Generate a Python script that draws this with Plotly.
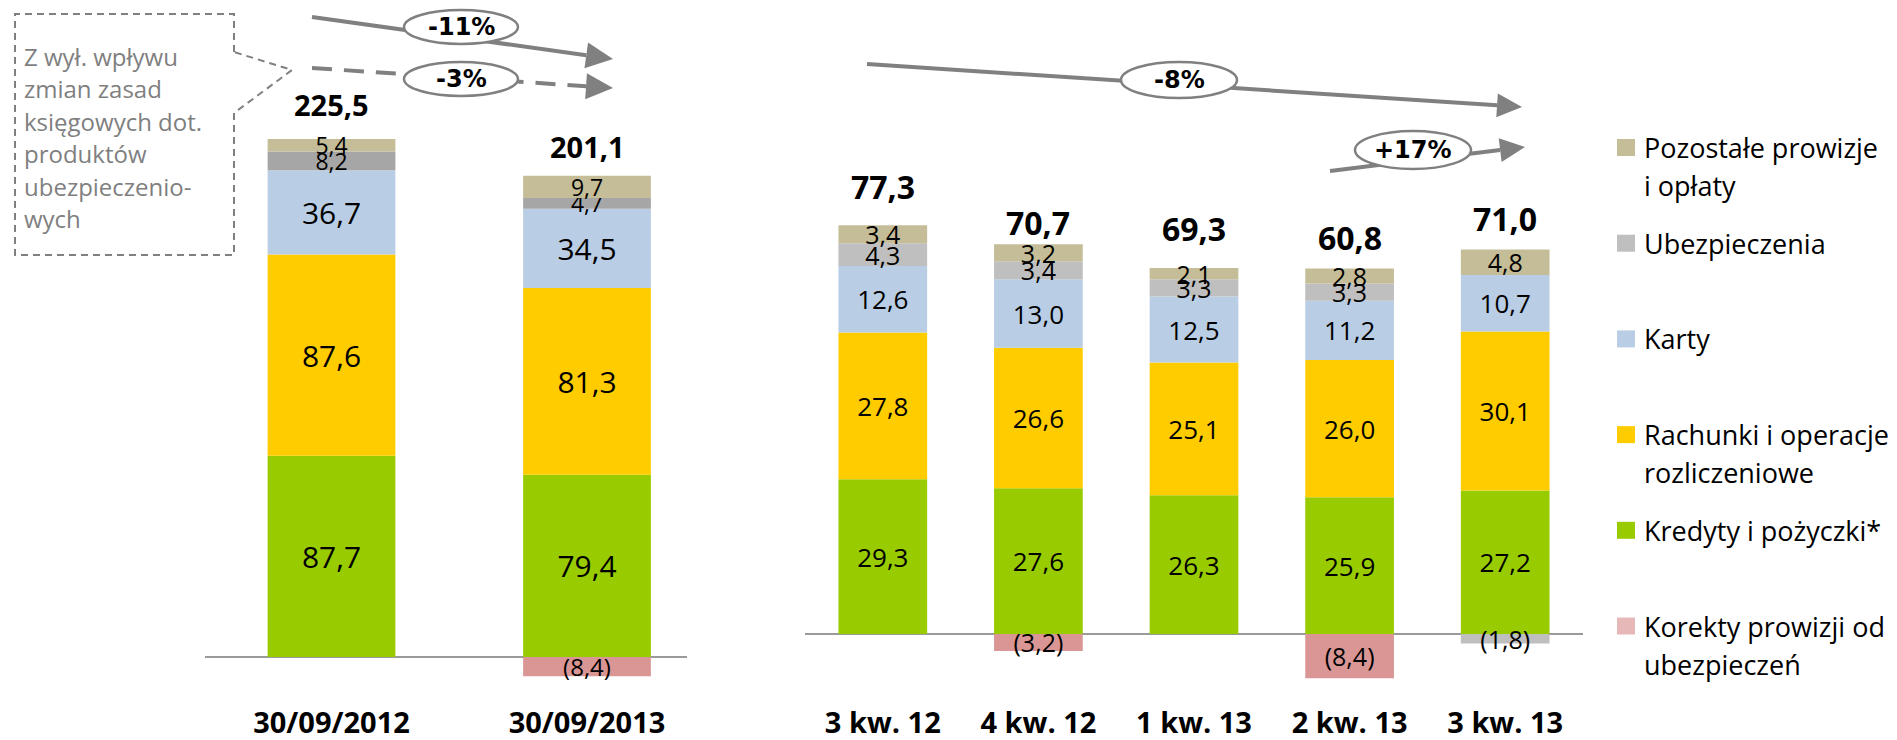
import plotly.graph_objects as go

W, H = 1897, 740

# ---------------- data ----------------
ytd_categories = ["30/09/2012", "30/09/2013"]
ytd_kredyty = [87.7, 79.4]
ytd_rachunki = [87.6, 81.3]
ytd_karty = [36.7, 34.5]
ytd_ubezp = [8.2, 4.7]
ytd_pozostale = [5.4, 9.7]
ytd_korekty = [None, -8.4]
ytd_totals = [225.5, 201.1]

q_categories = ["3 kw. 12", "4 kw. 12", "1 kw. 13", "2 kw. 13", "3 kw. 13"]
q_kredyty = [29.3, 27.6, 26.3, 25.9, 27.2]
q_rachunki = [27.8, 26.6, 25.1, 26.0, 30.1]
q_karty = [12.6, 13.0, 12.5, 11.2, 10.7]
q_ubezp = [4.3, 3.4, 3.3, 3.3, -1.8]
q_pozostale = [3.4, 3.2, 2.1, 2.8, 4.8]
q_korekty = [None, -3.2, None, -8.4, None]
q_totals = [77.3, 70.7, 69.3, 60.8, 71.0]

change_labels = ["-11%", "-3%", "-8%", "+17%"]
note_lines = ["Z wył. wpływu", "zmian zasad", "księgowych dot.", "produktów",
              "ubezpieczenio-", "wych"]
legend_items = [["Pozostałe prowizje", "i opłaty"], ["Ubezpieczenia"], ["Karty"],
                ["Rachunki i operacje", "rozliczeniowe"], ["Kredyty i pożyczki*"],
                ["Korekty prowizji od", "ubezpieczeń"]]

# ---------------- style ----------------
C_GREEN = "#99CC00"
C_YELLOW = "#FFCC00"
C_BLUE = "#B9CDE5"
C_GRAY_L = "#A6A6A6"
C_GRAY_R = "#BFBFBF"
C_TAN = "#C4BD97"
C_PINK = "#DA9694"
C_PINK_LEG = "#E6B9B8"
ARROW = "#808080"
FONT = "Open Sans"

def fmt(v):
    if v is None:
        return ""
    s = f"{abs(v):.1f}".replace(".", ",")
    return f"({s})" if v < 0 else s

def px(x, y):
    return x / W, 1 - y / H

fig = go.Figure()

def add_bar(cats, vals, color, xa, ya, width, size):
    fig.add_trace(go.Bar(
        x=cats, y=vals, text=[fmt(v) for v in vals],
        textposition="inside", textangle=0, constraintext="none",
        insidetextanchor="middle",
        insidetextfont=dict(family=FONT, size=size, color="black"),
        marker=dict(color=color, line=dict(width=0)),
        width=width, xaxis=xa, yaxis=ya, showlegend=False,
        hoverinfo="skip", cliponaxis=False))

# left panel (year to date)
for vals, col, sz in [(ytd_kredyty, C_GREEN, 30), (ytd_rachunki, C_YELLOW, 30),
                      (ytd_karty, C_BLUE, 30), (ytd_ubezp, C_GRAY_L, 23),
                      (ytd_pozostale, C_TAN, 23), (ytd_korekty, C_PINK, 24)]:
    add_bar(ytd_categories, vals, col, "x", "y", 0.5, sz)

# right panel (quarters)
for vals, col, sz in [(q_kredyty, C_GREEN, 26), (q_rachunki, C_YELLOW, 26),
                      (q_karty, C_BLUE, 26), (q_ubezp, C_GRAY_R, 25),
                      (q_pozostale, C_TAN, 25), (q_korekty, C_PINK, 25)]:
    add_bar(q_categories, vals, col, "x2", "y2", 0.57, sz)

# axes geometry (pixels)
L_BASE, L_SCALE = 657, 2.296
R_BASE, R_SCALE = 634, 5.28
PLOT_BOTTOM = 703
l_x0, l_x1, l_c0, l_step = 205, 687, 331.5, 255.5
r_x0, r_x1 = 805, 1583

tickfont = dict(family=FONT, size=29, color="black", weight="bold")
fig.update_layout(
    width=W, height=H, margin=dict(l=0, r=0, t=0, b=0, pad=0),
    plot_bgcolor="white", paper_bgcolor="white", barmode="relative",
    showlegend=False,
    xaxis=dict(domain=[l_x0 / W, l_x1 / W], anchor="y",
               range=[(l_x0 - l_c0) / l_step, (l_x1 - l_c0) / l_step],
               showgrid=False, zeroline=False, showline=False, ticks="",
               tickfont=tickfont, ticklabelstandoff=0),
    yaxis=dict(domain=[(H - PLOT_BOTTOM) / H, 1], anchor="x",
               range=[(L_BASE - PLOT_BOTTOM) / L_SCALE, L_BASE / L_SCALE],
               showgrid=False, showticklabels=False, zeroline=True,
               zerolinecolor="#9A9A9A", zerolinewidth=2),
    xaxis2=dict(domain=[r_x0 / W, r_x1 / W], anchor="y2", range=[-0.5, 4.5],
                showgrid=False, zeroline=False, showline=False, ticks="",
                tickfont=tickfont, ticklabelstandoff=0),
    yaxis2=dict(domain=[(H - PLOT_BOTTOM) / H, 1], anchor="x2",
                range=[(R_BASE - PLOT_BOTTOM) / R_SCALE, R_BASE / R_SCALE],
                showgrid=False, showticklabels=False, zeroline=True,
                zerolinecolor="#9A9A9A", zerolinewidth=2),
)

annotations = []
shapes = []

# totals above the stacks
def pos_sum(cols, i):
    return sum(c[i] for c in cols if c[i] is not None and c[i] > 0)

ytd_cols = [ytd_kredyty, ytd_rachunki, ytd_karty, ytd_ubezp, ytd_pozostale, ytd_korekty]
q_cols = [q_kredyty, q_rachunki, q_karty, q_ubezp, q_pozostale, q_korekty]
ytd_total_shift = [35, 29]
q_total_shift = [39, 22, 40, 31, 31]
for i, c in enumerate(ytd_categories):
    annotations.append(dict(x=c, y=pos_sum(ytd_cols, i), xref="x", yref="y",
                            text=fmt(ytd_totals[i]), showarrow=False, yanchor="middle",
                            yshift=ytd_total_shift[i],
                            font=dict(family=FONT, size=29, color="black", weight="bold")))
for i, c in enumerate(q_categories):
    annotations.append(dict(x=c, y=pos_sum(q_cols, i), xref="x2", yref="y2",
                            text=fmt(q_totals[i]), showarrow=False, yanchor="middle",
                            yshift=q_total_shift[i],
                            font=dict(family=FONT, size=32, color="black", weight="bold")))

# trend arrows
def arrow(x0, y0, x1, y1, dash="solid", lw=4, hl=27, hw=13):
    dx, dy = x1 - x0, y1 - y0
    n = (dx * dx + dy * dy) ** 0.5
    ux, uy = dx / n, dy / n
    bx, by = x1 - ux * hl, y1 - uy * hl
    a0 = px(x0, y0); a1 = px(bx, by)
    shapes.append(dict(type="line", xref="paper", yref="paper", x0=a0[0], y0=a0[1],
                       x1=a1[0], y1=a1[1], line=dict(color=ARROW, width=lw, dash=dash)))
    p1 = px(x1, y1); p2 = px(bx - uy * hw, by + ux * hw); p3 = px(bx + uy * hw, by - ux * hw)
    shapes.append(dict(type="path", xref="paper", yref="paper",
                       path=f"M{p1[0]},{p1[1]} L{p2[0]},{p2[1]} L{p3[0]},{p3[1]} Z",
                       fillcolor=ARROW, line=dict(width=0)))

arrow(312, 17, 613, 59)
arrow(312, 68, 613, 88, dash="20px,12px")
arrow(867, 64, 1522, 107, lw=4, hl=25, hw=12)
arrow(1330, 171, 1525, 147, lw=4, hl=25, hw=12)

bubbles = [(461, 27, 57, 17), (461, 79, 57, 17), (1179, 80, 58, 18), (1413, 150, 58, 19)]
for (cx, cy, rx, ry), lab in zip(bubbles, change_labels):
    a = px(cx - rx, cy - ry); b = px(cx + rx, cy + ry)
    shapes.append(dict(type="circle", xref="paper", yref="paper", x0=a[0], y0=b[1],
                       x1=b[0], y1=a[1], fillcolor="white",
                       line=dict(color=ARROW, width=2.5)))
    c = px(cx, cy)
    annotations.append(dict(x=c[0], y=c[1], xref="paper", yref="paper", text=lab,
                            showarrow=False, xanchor="center", yanchor="middle",
                            font=dict(family="DejaVu Sans", size=24, color="black",
                                      weight="bold")))

# callout box
pts = [(234, 52), (234, 14), (15, 14), (15, 255), (234, 255), (234, 113), (292, 70)]
pp = [px(*p) for p in pts]
path = "M" + " L".join(f"{p[0]},{p[1]}" for p in pp) + " Z"
shapes.append(dict(type="path", xref="paper", yref="paper", path=path,
                   line=dict(color=ARROW, width=2, dash="7px,5px"), fillcolor="rgba(0,0,0,0)"))
for k, t in enumerate(note_lines):
    p = px(22, 56 + k * 32.6)
    annotations.append(dict(x=p[0], y=p[1], xref="paper", yref="paper", text=t,
                            showarrow=False, xanchor="left", yanchor="middle",
                            font=dict(family=FONT, size=24, color="#7F7F7F")))

# legend
leg_colors = [C_TAN, C_GRAY_R, C_BLUE, C_YELLOW, C_GREEN, C_PINK_LEG]
for i, (lines, col) in enumerate(zip(legend_items, leg_colors)):
    yc = 147.5 + i * 95.7
    a = px(1617, yc - 8.5); b = px(1635, yc + 8.5)
    shapes.append(dict(type="rect", xref="paper", yref="paper", x0=a[0], y0=b[1],
                       x1=b[0], y1=a[1], fillcolor=col, line=dict(width=0)))
    for j, t in enumerate(lines):
        p = px(1642, yc + j * 38)
        annotations.append(dict(x=p[0], y=p[1], xref="paper", yref="paper", text=t,
                                showarrow=False, xanchor="left", yanchor="middle",
                                font=dict(family=FONT, size=27, color="black")))

fig.update_layout(annotations=annotations, shapes=shapes)
fig.write_html("out.html", config={"displayModeBar": False},
               post_script="document.body.style.margin='0';"
                           "document.body.style.overflow='hidden';")
